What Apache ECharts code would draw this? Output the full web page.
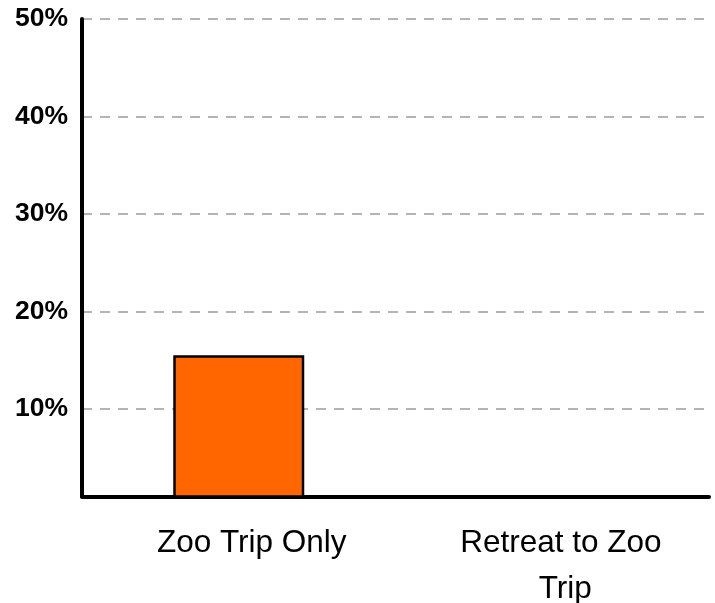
<!DOCTYPE html>
<html>
<head>
<meta charset="utf-8">
<script src="https://cdn.jsdelivr.net/npm/echarts@6/dist/echarts.min.js"></script>
<style>
  html, body { margin: 0; padding: 0; background: #fff; }
  #chart { width: 715px; height: 603px; }
</style>
</head>
<body>
<div id="chart"></div>
<script>
// Share of respondents by trip type (percent)
const categories = ['Zoo Trip Only', 'Retreat to Zoo Trip'];
const shares = [15.5, null];
const yTicks = [10, 20, 30, 40, 50];

const chart = echarts.init(document.getElementById('chart'), null, { renderer: 'canvas' });

chart.setOption({
  animation: false,
  backgroundColor: '#ffffff',
  grid: {
    left: 82, right: 6, top: 19, bottom: 106.5,
    containLabel: false,
    outerBoundsMode: 'none'
  },
  xAxis: {
    type: 'category',
    data: categories,
    axisLine: { show: true, lineStyle: { color: '#000', width: 4 } },
    axisTick: { show: false },
    axisLabel: {
      color: '#000',
      fontFamily: 'Liberation Sans, Arial, sans-serif',
      fontSize: 31.5,
      lineHeight: 46,
      margin: 24,
      width: 240,
      overflow: 'break',
      padding: [0, 0, 0, 26],
      interval: 0
    }
  },
  yAxis: {
    type: 'value',
    min: 1,
    max: 50,
    axisLine: { show: true, lineStyle: { color: '#000', width: 4 } },
    axisTick: { show: false, customValues: yTicks },
    axisLabel: {
      customValues: yTicks,
      formatter: '{value}%',
      color: '#000',
      fontFamily: 'Liberation Sans, Arial, sans-serif',
      fontWeight: 'bold',
      fontSize: 26.5,
      margin: 14
    },
    splitLine: {
      show: true,
      lineStyle: { color: '#b4b4b4', width: 2, type: [10, 8] }
    }
  },
  series: [{
    type: 'bar',
    data: shares,
    barWidth: 131,
    itemStyle: { color: '#ff6600', borderColor: '#000', borderWidth: 2.5 }
  }]
});
</script>
</body>
</html>
